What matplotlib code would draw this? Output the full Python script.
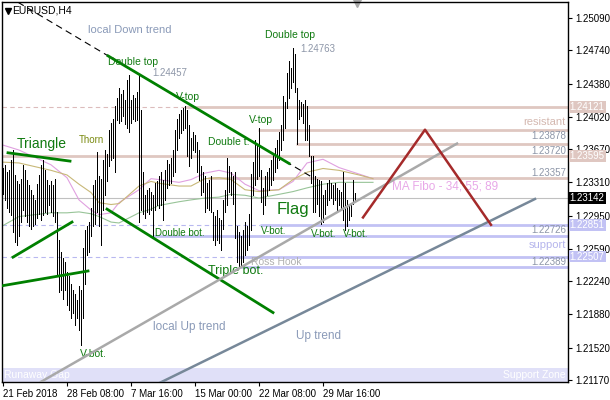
import matplotlib
matplotlib.use('Agg')
import matplotlib.pyplot as plt
import numpy as np

plt.rcParams['font.family'] = ['Liberation Sans', 'DejaVu Sans']

# H4 bars, 21 Feb 2018 00:00 onwards (high / low)
highs = [1.2346, 1.2350, 1.2342, 1.2344, 1.2355, 1.2366, 1.2339, 1.2332, 1.2329, 1.2335,
         1.2350, 1.2344, 1.2334, 1.2328, 1.2323, 1.2317, 1.2312, 1.2329, 1.2339, 1.2350,
         1.2355, 1.2344, 1.2334, 1.2328, 1.2332, 1.2328, 1.2335, 1.2299, 1.2269, 1.2256,
         1.2249, 1.2245, 1.2234, 1.2230, 1.2221, 1.2214, 1.2210, 1.2204, 1.2219, 1.2214,
         1.2260, 1.2279, 1.2284, 1.2288, 1.2303, 1.2328, 1.2334, 1.2364, 1.2338, 1.2335,
         1.2355, 1.2366, 1.2362, 1.2388, 1.2395, 1.2400, 1.2414, 1.2422, 1.2433, 1.2427,
         1.2431, 1.2420, 1.2442, 1.2447, 1.2420, 1.2426, 1.2422, 1.2429, 1.24457, 1.2409,
         1.2342, 1.2317, 1.2323, 1.2325, 1.2321, 1.2317, 1.2330, 1.2332, 1.2338, 1.2342,
         1.2334, 1.2344, 1.2355, 1.2351, 1.2357, 1.2366, 1.2388, 1.2400, 1.2405, 1.2409,
         1.2411, 1.2414, 1.2409, 1.2393, 1.2379, 1.2386, 1.2382, 1.2375, 1.2366, 1.2349,
         1.2342, 1.2338, 1.2330, 1.2334, 1.2338, 1.2299, 1.2295, 1.2301, 1.2292, 1.2290,
         1.2312, 1.2323, 1.2357, 1.2349, 1.2342, 1.2338, 1.2342, 1.2284, 1.2277, 1.2273,
         1.2279, 1.2288, 1.2284, 1.2297, 1.2340, 1.2353, 1.2377, 1.2371, 1.2390, 1.2344,
         1.2325, 1.2338, 1.2342, 1.2346, 1.2355, 1.2362, 1.2368, 1.2377, 1.2386, 1.2393,
         1.2425, 1.2418, 1.2449, 1.2462, 1.2455, 1.24763, 1.2470, 1.2433, 1.2420, 1.2418,
         1.2416, 1.2420, 1.2414, 1.2393, 1.2360, 1.2360, 1.2338, 1.2335, 1.2334, 1.2332,
         1.2317, 1.2323, 1.2330, 1.2334, 1.2330, 1.2328, 1.2330, 1.2325, 1.2323, 1.2321,
         1.2342, 1.2330, 1.2312, 1.2308, 1.2306, 1.2334, 1.2319]
lows = [1.2318, 1.2312, 1.2303, 1.2299, 1.2296, 1.2277, 1.2266, 1.2263, 1.2273, 1.2288,
        1.2301, 1.2295, 1.2288, 1.2284, 1.2281, 1.2284, 1.2286, 1.2292, 1.2297, 1.2290,
        1.2296, 1.2299, 1.2297, 1.2306, 1.2299, 1.2295, 1.2288, 1.2232, 1.2212, 1.2214,
        1.2205, 1.2214, 1.2198, 1.2193, 1.2184, 1.2189, 1.2176, 1.2184, 1.2171, 1.2155,
        1.2184, 1.2221, 1.2252, 1.2256, 1.2273, 1.2284, 1.2286, 1.2299, 1.2284, 1.2263,
        1.2301, 1.2317, 1.2332, 1.2349, 1.2355, 1.2357, 1.2342, 1.2399, 1.2395, 1.2397,
        1.2403, 1.2394, 1.2390, 1.2386, 1.2395, 1.2400, 1.2397, 1.2399, 1.2288, 1.2301,
        1.2297, 1.2292, 1.2299, 1.2297, 1.2301, 1.2273, 1.2301, 1.2306, 1.2303, 1.2306,
        1.2290, 1.2312, 1.2325, 1.2328, 1.2330, 1.2338, 1.2342, 1.2366, 1.2379, 1.2384,
        1.2388, 1.2390, 1.2360, 1.2349, 1.2357, 1.2366, 1.2364, 1.2342, 1.2334, 1.2317,
        1.2321, 1.2299, 1.2303, 1.2301, 1.2299, 1.2269, 1.2263, 1.2269, 1.2265, 1.2258,
        1.2281, 1.2299, 1.2306, 1.2321, 1.2317, 1.2308, 1.2271, 1.2245, 1.2238, 1.2241,
        1.2245, 1.2252, 1.2258, 1.2263, 1.2279, 1.2317, 1.2328, 1.2335, 1.2338, 1.2310,
        1.2297, 1.2306, 1.2317, 1.2323, 1.2328, 1.2334, 1.2342, 1.2346, 1.2355, 1.2366,
        1.2377, 1.2390, 1.2411, 1.2422, 1.2433, 1.2440, 1.2429, 1.2373, 1.2400, 1.2403,
        1.2395, 1.2377, 1.2377, 1.2360, 1.2330, 1.2299, 1.2299, 1.2308, 1.2295, 1.2286,
        1.2288, 1.2297, 1.2306, 1.2312, 1.2314, 1.2308, 1.2312, 1.2301, 1.2306, 1.2301,
        1.2290, 1.2279, 1.2284, 1.2290, 1.2295, 1.2308, 1.2312]

# MA Fibo 34 / 55 / 89 read at some bars
ma_bars = [-1, 8, 24, 32, 38, 44, 48, 54, 58, 68, 74, 78, 88, 94, 101, 108, 114, 121, 128,
           138, 145, 152, 160, 168, 178, 185]
ma34 = [1.2372, 1.2366, 1.2350, 1.2336, 1.2312, 1.2301, 1.2296, 1.2298, 1.2309, 1.2323,
        1.2335, 1.2334, 1.2331, 1.2334, 1.2341, 1.2344, 1.2341, 1.2329, 1.2322, 1.2323,
        1.2332, 1.2352, 1.2356, 1.2347, 1.2340, 1.2335]
ma55 = [1.2353, 1.2352, 1.2344, 1.2339, 1.2329, 1.2320, 1.2309, 1.2307, 1.2308, 1.2327,
        1.2332, 1.2330, 1.2327, 1.2327, 1.2335, 1.2336, 1.2334, 1.2323, 1.2321, 1.2323,
        1.2334, 1.2342, 1.2346, 1.2344, 1.2339, 1.2335]
ma89 = [1.2283, 1.2294, 1.2298, 1.2298, 1.2299, 1.2297, 1.2294, 1.2288, 1.2287, 1.2298,
        1.2302, 1.2306, 1.2310, 1.2312, 1.2314, 1.2315, 1.2318, 1.2317, 1.2314, 1.2318,
        1.2321, 1.2325, 1.2329, 1.2331, 1.2331, 1.2331]

tick_bars = [0, 32, 64, 96, 128, 160]
tick_labels = ['21 Feb 2018', '28 Feb 08:00', '7 Mar 16:00', '15 Mar 00:00',
               '22 Mar 08:00', '29 Mar 16:00']
price_ticks = [1.25090, 1.24740, 1.24380, 1.24020, 1.23670, 1.23310, 1.22950,
               1.22590, 1.22240, 1.21880, 1.21520, 1.21170]

last_price = 1.23142
ymin, ymax = 1.21148, 1.25263

fig = plt.figure(figsize=(6.1, 4), dpi=100)
ax = fig.add_axes([2 / 610, 18 / 400, 566 / 610, 380 / 400])
ax.set_xlim(-0.5, 282.5)
ax.set_ylim(ymin, ymax)

# support zone band
ax.axhspan(ymin, 1.2130, color='#e0e0f8', lw=0, zorder=0)
ax.text(0.5, 1.2122, 'Runaway Gap', color='white', fontsize=7.5, va='center')
ax.text(281.5, 1.2122, 'Support Zone', color='white', fontsize=7.5, va='center', ha='right')

# horizontal levels
res = '#dfc7c1'
sup = '#c2c2f4'
ax.hlines(1.24121, -0.5, 91, color='#dcbcbc', lw=0.8, linestyles=(0, (4, 3)))
ax.hlines(1.24121, 91, 282.5, color=res, lw=2)
ax.hlines(1.23878, 127.5, 282.5, color=res, lw=2)
ax.hlines(1.23720, 146.5, 282.5, color=res, lw=2)
ax.hlines(1.23595, -0.5, 282.5, color=res, lw=2)
ax.hlines(1.23357, 102.5, 282.5, color=res, lw=2)
ax.hlines(1.22851, -0.5, 128.5, color='#b8b8f0', lw=0.8, linestyles=(0, (4, 3)))
ax.hlines(1.22851, 128.5, 282.5, color=sup, lw=2)
ax.hlines(1.22726, 75, 282.5, color=sup, lw=2)
ax.hlines(1.22507, -0.5, 117.5, color='#b8b8f0', lw=0.8, linestyles=(0, (4, 3)))
ax.hlines(1.22507, 117.5, 282.5, color=sup, lw=2)
ax.hlines(1.22389, 118.5, 282.5, color=sup, lw=2)
ax.axhline(last_price, color='#c0c0c0', lw=0.8)

# moving averages
ax.plot(ma_bars, ma34, color='#e0a0e0', lw=0.8)
ax.plot(ma_bars, ma55, color='#c8b878', lw=0.8)
ax.plot(ma_bars, ma89, color='#98c498', lw=0.8)

# bars
idx = np.arange(len(highs))
ax.vlines(idx, lows, highs, color='black', lw=0.5, antialiased=False, zorder=3)

# trend lines
ax.plot([7.5, 155], [1.2526, 1.2336], color='black', lw=0.8, ls=(0, (6, 4)), zorder=4)
ax.plot([52.5, 143], [1.2468, 1.23515], color='green', lw=2, zorder=4)
ax.plot([52, 135], [1.2302, 1.2190], color='green', lw=2, zorder=4)
ax.plot([2.5, 33.5], [1.2363, 1.2354], color='green', lw=2, zorder=4)
ax.plot([5, 34.5], [1.2250, 1.2288], color='green', lw=2, zorder=4)
ax.plot([-0.5, 42.5], [1.2219, 1.2235], color='green', lw=2, zorder=4)
ax.plot([19, 227], [1.2115, 1.2373], color='#a9a9a9', lw=1.8, zorder=4)
ax.plot([78.5, 266], [1.2114, 1.2313], color='#778899', lw=1.8, zorder=4)
ax.plot([180, 211, 244], [1.2293, 1.2388, 1.2285], color='#a52a2a', lw=1.8, zorder=4)

# labels
g = '#107a10'
sl = '#8a9ab8'
gr = '#8d96a8'
ax.text(42.5, 1.2496, 'local Down trend', color=sl, fontsize=8, va='center')
ax.text(52.5, 1.2461, 'Double top', color=g, fontsize=7.5, va='center', zorder=5)
ax.text(74.5, 1.2449, '1.24457', color=gr, fontsize=7, va='center')
ax.text(86.5, 1.2423, 'V-top', color=g, fontsize=7.5, va='center', zorder=5)
ax.text(38, 1.2377, 'Thorn', color='#7a8a10', fontsize=7, va='center')
ax.text(7, 1.2372, 'Triangle', color=g, fontsize=10, va='center')
ax.text(102.5, 1.2375, 'Double t.', color=g, fontsize=7.5, va='center')
ax.text(123, 1.2399, 'V-top', color=g, fontsize=7.5, va='center')
ax.text(131, 1.2491, 'Double top', color=g, fontsize=7.5, va='center')
ax.text(148.5, 1.2475, '1.24763', color=gr, fontsize=7, va='center')
ax.text(76, 1.2276, 'Double bot.', color=g, fontsize=7, va='center')
ax.text(129, 1.2278, 'V-bot.', color=g, fontsize=7, va='center')
ax.text(154, 1.2275, 'V-bot.', color=g, fontsize=7, va='center')
ax.text(170, 1.2275, 'V-bot.', color=g, fontsize=7, va='center')
ax.text(137, 1.2302, 'Flag', color=g, fontsize=12, va='center')
ax.text(102.5, 1.2235, 'Triple bot.', color=g, fontsize=9, va='center')
ax.text(124, 1.2245, 'Ross Hook', color='#b0b0b0', fontsize=7.5, va='center')
ax.text(75, 1.2174, 'local Up trend', color=sl, fontsize=8.5, va='center')
ax.text(146.5, 1.2165, 'Up trend', color=sl, fontsize=8.5, va='center')
ax.text(38.5, 1.2145, 'V-bot.', color=g, fontsize=7.5, va='center')
ax.text(194.5, 1.2326, 'MA Fibo - 34; 55; 89', color='#e8a8e8', fontsize=8.5, va='center')
ax.text(281.5, 1.2396, 'resistant', color='#d4b8b0', fontsize=8, va='center', ha='right')
ax.text(281.5, 1.2263, 'support', color='#b4b4ec', fontsize=8, va='center', ha='right')
for p, y in [('1.23878', 1.2381), ('1.23720', 1.2365), ('1.23357', 1.2341),
             ('1.22726', 1.2279), ('1.22389', 1.2245)]:
    ax.text(281.5, y, p, color=gr, fontsize=7, va='center', ha='right')

ax.text(0.018, 0.977, 'EURUSD,H4', transform=ax.transAxes, fontsize=7.5, va='center')
ax.plot([0.011], [0.977], marker='v', color='black', ms=4, transform=ax.transAxes)
ax.plot([177], [ymax - 0.00008], marker='v', color='#a8a8a8', ms=6, clip_on=False)

# axes styling
ax.yaxis.tick_right()
ax.set_yticks(price_ticks)
ax.set_yticklabels(['%.5f' % p for p in price_ticks])
ax.set_xticks(tick_bars)
ax.set_xticklabels(tick_labels, ha='left')
ax.tick_params(axis='both', direction='out', length=3, labelsize=7, pad=2, width=0.8)
for s in ax.spines.values():
    s.set_linewidth(1)

# price boxes on the scale
boxes = [(1.24121, '#dfc7c1', 'white'), (1.23595, '#dfc7c1', 'white'),
         (last_price, 'black', 'white'), (1.22851, '#c2c2f4', 'white'),
         (1.22507, '#c2c2f4', 'white')]
for p, fc, tc in boxes:
    ax.text(1.003, p, '%.5f' % p, transform=ax.get_yaxis_transform(), va='center',
            ha='left', fontsize=7, color=tc, clip_on=False, zorder=6,
            bbox=dict(boxstyle='square,pad=0.1', fc=fc, ec='none'))

fig.savefig('out.png', dpi=100)
